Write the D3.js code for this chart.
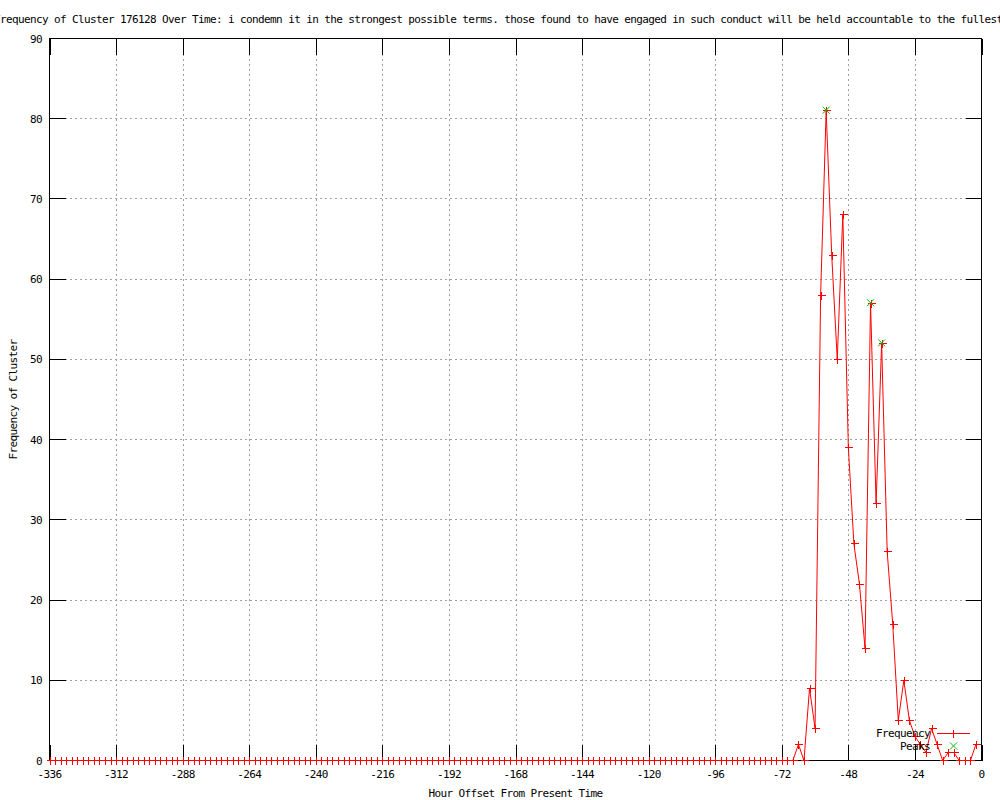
<!DOCTYPE html>
<html>
<head>
<meta charset="utf-8">
<script src="https://cdn.jsdelivr.net/npm/d3@7"></script>
<style>
  body { margin: 0; background: #fff; }
  svg text { font-family: "DejaVu Sans Mono", "Liberation Mono", monospace; font-size: 11px; letter-spacing: -0.62px; fill: #000; }
</style>
</head>
<body>
<svg id="chart" width="1000" height="800"></svg>
<script>
// hours: every 2 hours from -336 up to -2
const hours = d3.range(-336, 0, 2);

// frequency per hour slot
const frequency = [
  0,0,0,0,0,0,0,0,0,0,0,0,0,0,0,0,0,0,0,0,
  0,0,0,0,0,0,0,0,0,0,0,0,0,0,0,0,0,0,0,0,
  0,0,0,0,0,0,0,0,0,0,0,0,0,0,0,0,0,0,0,0,
  0,0,0,0,0,0,0,0,0,0,0,0,0,0,0,0,0,0,0,0,
  0,0,0,0,0,0,0,0,0,0,0,0,0,0,0,0,0,0,0,0,
  0,0,0,0,0,0,0,0,0,0,0,0,0,0,0,0,0,0,0,0,
  0,0,0,0,0,0,0,0,0,0,0,0,0,0,
  // -68 .. -2
  0, 2, 0, 9, 4, 58, 81, 63, 50, 68, 39, 27, 22, 14, 57, 32, 52, 26, 17,
  5, 10, 5, 3, 2, 1, 4, 2, 0, 1, 1, 0, 0, 0, 2
];

const peakHours = [-56, -40, -36];
const peakValues = [81, 57, 52];

const xTicks = d3.range(-336, 1, 24);
const yTicks = d3.range(0, 91, 10);

const titleText = 'Frequency of Cluster 176128 Over Time: i condemn it in the strongest possible terms. those found to have engaged in such conduct will be held accountable to the fullest';

const svg = d3.select('#chart');
const margin = { top: 38, right: 19, bottom: 40, left: 49 };
const width = +svg.attr('width');
const height = +svg.attr('height');

const xScale = d3.scaleLinear()
  .domain([-336, 0])
  .range([margin.left + 0.5, width - margin.right + 0.5]);

const yScale = d3.scaleLinear()
  .domain([0, 90])
  .range([height - margin.bottom + 0.5, margin.top + 0.5]);

const x0 = xScale.range()[0], x1 = xScale.range()[1];
const y0 = yScale.range()[0], y1 = yScale.range()[1];
const tickLen = 16;

// grid (dotted gray)
const grid = svg.append('g').attr('class', 'grid')
  .attr('stroke', '#a0a0a0')
  .attr('stroke-dasharray', '2,3')
  .attr('shape-rendering', 'crispEdges');
grid.selectAll('.vgrid').data(xTicks.slice(1, -1))
  .enter().append('line')
    .attr('x1', d => Math.round(xScale(d)) + 0.5)
    .attr('x2', d => Math.round(xScale(d)) + 0.5)
    .attr('y1', y0)
    .attr('y2', y1);
grid.selectAll('.hgrid').data(yTicks.slice(1, -1))
  .enter().append('line')
    .attr('y1', d => Math.round(yScale(d) - 0.5) + 0.5)
    .attr('y2', d => Math.round(yScale(d) - 0.5) + 0.5)
    .attr('x1', x0)
    .attr('x2', x1);

// tick marks, mirrored on all four sides
const ticks = svg.append('g')
  .attr('stroke', '#000')
  .attr('shape-rendering', 'crispEdges');
xTicks.forEach(t => {
  const x = Math.round(xScale(t)) + 0.5;
  ticks.append('line').attr('x1', x).attr('x2', x).attr('y1', y0).attr('y2', y0 - tickLen);
  ticks.append('line').attr('x1', x).attr('x2', x).attr('y1', y1).attr('y2', y1 + tickLen);
});
yTicks.forEach(t => {
  const y = Math.round(yScale(t) - 0.5) + 0.5;
  ticks.append('line').attr('y1', y).attr('y2', y).attr('x1', x0).attr('x2', x0 + tickLen);
  ticks.append('line').attr('y1', y).attr('y2', y).attr('x1', x1).attr('x2', x1 - tickLen);
});

// border
svg.append('rect')
  .attr('x', x0).attr('y', y1)
  .attr('width', x1 - x0).attr('height', y0 - y1)
  .attr('fill', 'none')
  .attr('stroke', '#000')
  .attr('shape-rendering', 'crispEdges');

// tick labels
svg.append('g').selectAll('text').data(xTicks)
  .enter().append('text')
    .attr('x', d => xScale(d))
    .attr('y', 778)
    .attr('text-anchor', 'middle')
    .text(d => d);
svg.append('g').selectAll('text').data(yTicks)
  .enter().append('text')
    .attr('x', 42)
    .attr('y', d => yScale(d) + 4)
    .attr('text-anchor', 'end')
    .text(d => d);

// axis titles
svg.append('text')
  .attr('x', (x0 + x1) / 2)
  .attr('y', 797)
  .attr('text-anchor', 'middle')
  .text('Hour Offset From Present Time');
svg.append('text')
  .attr('transform', `translate(17,${(y0 + y1) / 2}) rotate(-90)`)
  .attr('text-anchor', 'middle')
  .text('Frequency of Cluster');

// title
svg.append('text')
  .attr('x', -6)
  .attr('y', 23)
  .text(titleText);

// frequency line + markers
const series = hours.map((h, i) => ({ x: h, y: frequency[i] }));
const lineGen = d3.line()
  .x(d => xScale(d.x))
  .y(d => yScale(d.y));

svg.append('path')
  .datum(series)
  .attr('fill', 'none')
  .attr('stroke', '#ff0000')
  .attr('stroke-width', 1)
  .attr('d', lineGen);

const plus = (sel, s) => sel.append('path')
  .attr('d', d => {
    const px = Math.round(xScale(d.x)) + 0.5, py = Math.round(yScale(d.y) - 0.5) + 0.5;
    return `M${px - s},${py}H${px + s}M${px},${py - s}V${py + s}`;
  });

const pts = svg.append('g')
  .attr('stroke', '#ff0000')
  .attr('fill', 'none')
  .attr('shape-rendering', 'crispEdges');
plus(pts.selectAll('path').data(series).enter(), 4);

// peaks (green crosses)
const peaks = peakHours.map((h, i) => ({ x: h, y: peakValues[i] }));
const cross = (sel, s) => sel.append('path')
  .attr('d', d => {
    const px = xScale(d.x), py = yScale(d.y) - 0.5;
    return `M${px - s},${py - s}L${px + s},${py + s}M${px - s},${py + s}L${px + s},${py - s}`;
  });
const pk = svg.append('g')
  .attr('stroke', '#00c000')
  .attr('fill', 'none');
cross(pk.selectAll('path').data(peaks).enter(), 3.5);

// legend
const legend = svg.append('g');
legend.append('text').attr('x', 930).attr('y', 737).attr('text-anchor', 'end').text('Frequency');
legend.append('text').attr('x', 930).attr('y', 750).attr('text-anchor', 'end').text('Peaks');
legend.append('line')
  .attr('x1', 937).attr('x2', 970).attr('y1', 733.5).attr('y2', 733.5)
  .attr('stroke', '#ff0000')
  .attr('shape-rendering', 'crispEdges');
legend.append('path')
  .attr('d', 'M953.5,729.5V737.5')
  .attr('stroke', '#ff0000')
  .attr('shape-rendering', 'crispEdges');
legend.append('path')
  .attr('d', 'M950,742.5L957,749.5M950,749.5L957,742.5')
  .attr('stroke', '#00c000');
</script>
</body>
</html>
